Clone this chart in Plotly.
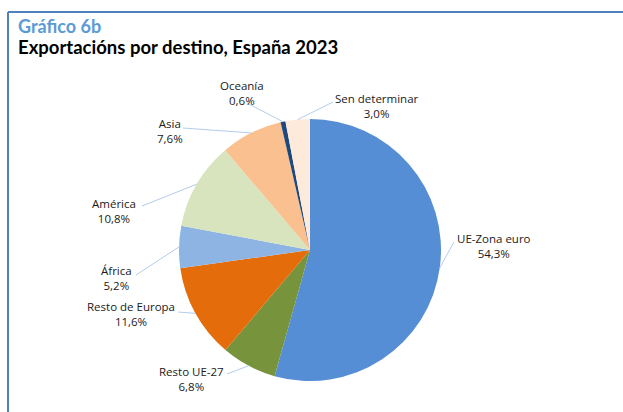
import math
import plotly.graph_objects as go

W, H = 623, 412

categories = ["UE-Zona euro", "Resto UE-27", "Resto de Europa", "África",
              "América", "Asia", "Oceanía", "Sen determinar"]
values = [54.3, 6.8, 11.6, 5.2, 10.8, 7.6, 0.6, 3.0]
value_labels = ["54,3%", "6,8%", "11,6%", "5,2%", "10,8%", "7,6%", "0,6%", "3,0%"]
colors = ["#558ED5", "#77933C", "#E46C0A", "#8EB4E3",
          "#D7E4BD", "#FAC090", "#1F497D", "#FDEADA"]

# layout (pixels): pie centre / radius, label centres, leader-line starts
CX, CY, R = 310, 250, 131
label_pos = {
    "UE-Zona euro": (494, 246),
    "Resto UE-27": (191, 379),
    "Resto de Europa": (131, 314),
    "África": (116, 278),
    "América": (114, 211),
    "Asia": (170, 131),
    "Oceanía": (242, 93),
    "Sen determinar": (377, 106),
}
line_start = {
    "UE-Zona euro": (454, 242),
    "Resto UE-27": (227, 374),
    "Resto de Europa": (178, 312),
    "África": (136, 275),
    "América": (142, 206),
    "Asia": (183, 128),
    "Oceanía": (247, 103),
    "Sen determinar": (333, 102),
}

def px(x):
    return x / W

def py(y):
    return 1 - y / H

fig = go.Figure()
fig.add_trace(go.Pie(
    labels=categories, values=values, sort=False, direction="clockwise",
    rotation=0, textinfo="none", hoverinfo="label+percent",
    marker=dict(colors=colors, line=dict(width=0)),
    domain=dict(x=[px(CX - R), px(CX + R)], y=[py(CY + R), py(CY - R)]),
    showlegend=False,
))

annotations = [
    dict(x=px(16), y=py(26), xref="paper", yref="paper", xanchor="left", yanchor="middle",
         text="<b>Gráfico 6b</b>", showarrow=False,
         font=dict(family="Lato", size=18, color="#5B9BD5")),
    dict(x=px(16), y=py(47), xref="paper", yref="paper", xanchor="left", yanchor="middle",
         text="<b>Exportacións por destino, España 2023</b>", showarrow=False,
         font=dict(family="Lato", size=18.5, color="#000000")),
]
shapes = [
    dict(type="line", xref="paper", yref="paper", x0=px(8), y0=py(12), x1=px(W + 5), y1=py(12),
         line=dict(color="#4F81BD", width=2)),
    dict(type="line", xref="paper", yref="paper", x0=px(8), y0=py(12), x1=px(8), y1=py(H + 5),
         line=dict(color="#4F81BD", width=2)),
]

total = sum(values)
cum = 0.0
for cat, v, lab in zip(categories, values, value_labels):
    mid = (cum + v / 2) / total * 2 * math.pi
    cum += v
    ex = CX + R * math.sin(mid)
    ey = CY - R * math.cos(mid)
    sx, sy = line_start[cat]
    shapes.append(dict(type="line", xref="paper", yref="paper",
                       x0=px(sx), y0=py(sy), x1=px(ex), y1=py(ey),
                       line=dict(color="#B4CDEA", width=1)))
    lx, ly = label_pos[cat]
    annotations.append(dict(x=px(lx), y=py(ly), xref="paper", yref="paper",
                            xanchor="center", yanchor="middle", align="center",
                            text=f"{cat}<br>{lab}", showarrow=False,
                            font=dict(family="Open Sans", size=11.5, color="#1a1a1a")))

fig.update_layout(
    width=W, height=H, margin=dict(l=0, r=0, t=0, b=0),
    paper_bgcolor="white", plot_bgcolor="white",
    annotations=annotations, shapes=shapes,
)
fig.write_html("out.html", config={"displayModeBar": False},
               post_script="document.body.style.margin='0';document.body.style.padding='0';")
